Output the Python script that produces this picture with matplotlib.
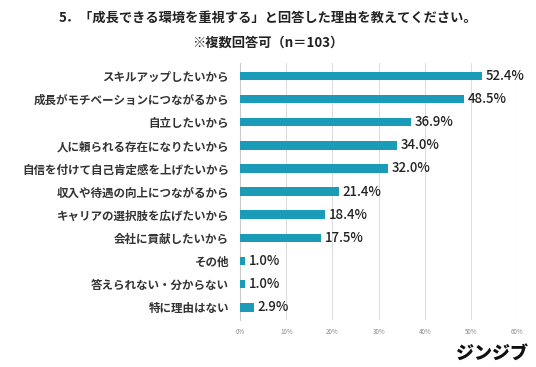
import matplotlib.pyplot as plt

plt.rcParams['font.family'] = ['Noto Sans CJK JP', 'DejaVu Sans']

categories = [
    "スキルアップしたいから",
    "成長がモチベーションにつながるから",
    "自立したいから",
    "人に頼られる存在になりたいから",
    "自信を付けて自己肯定感を上げたいから",
    "収入や待遇の向上につながるから",
    "キャリアの選択肢を広げたいから",
    "会社に貢献したいから",
    "その他",
    "答えられない・分からない",
    "特に理由はない",
]
values = [52.4, 48.5, 36.9, 34.0, 32.0, 21.4, 18.4, 17.5, 1.0, 1.0, 2.9]
xticks = [0, 10, 20, 30, 40, 50, 60]

fig = plt.figure(figsize=(5.36, 3.67), dpi=100)
ax = fig.add_axes([0.448, 0.128, 0.517, 0.70])

y = list(range(len(categories)))
ax.barh(y, values, height=0.37, color='#1a9bb8', zorder=3)
for yi, v in zip(y, values):
    ax.text(v + 0.8, yi, f"{v:.1f}%", va='center', ha='left',
            fontsize=9.5, fontweight='medium', color='#222222')

ax.set_yticks(y)
ax.set_yticklabels(categories, fontsize=8.3, fontweight='bold', color='#333333')
ax.set_ylim(len(categories) - 0.45, -0.55)
ax.set_xlim(0, 60)
ax.set_xticks(xticks)
ax.set_xticklabels([f"{t}%" for t in xticks], fontsize=4.5, color='#888888')
ax.tick_params(length=0, pad=6)
ax.tick_params(axis='y', pad=8)
ax.grid(axis='x', color='#dddddd', linewidth=0.8, zorder=0)
for s in ['top', 'right', 'bottom']:
    ax.spines[s].set_visible(False)
ax.spines['left'].set_color('#cccccc')

fig.text(0.5, 0.953, "5．「成長できる環境を重視する」と回答した理由を教えてください。",
         ha='center', va='center', fontsize=9.5, fontweight='bold', color='#222222')
fig.text(0.5, 0.885, "※複数回答可（n＝103）",
         ha='center', va='center', fontsize=9.5, fontweight='bold', color='#222222')
fig.text(0.985, 0.035, "ジンジブ", ha='right', va='center', fontsize=13,
         fontweight='black', style='italic', color='#111111')

fig.savefig("out.png", dpi=100)
